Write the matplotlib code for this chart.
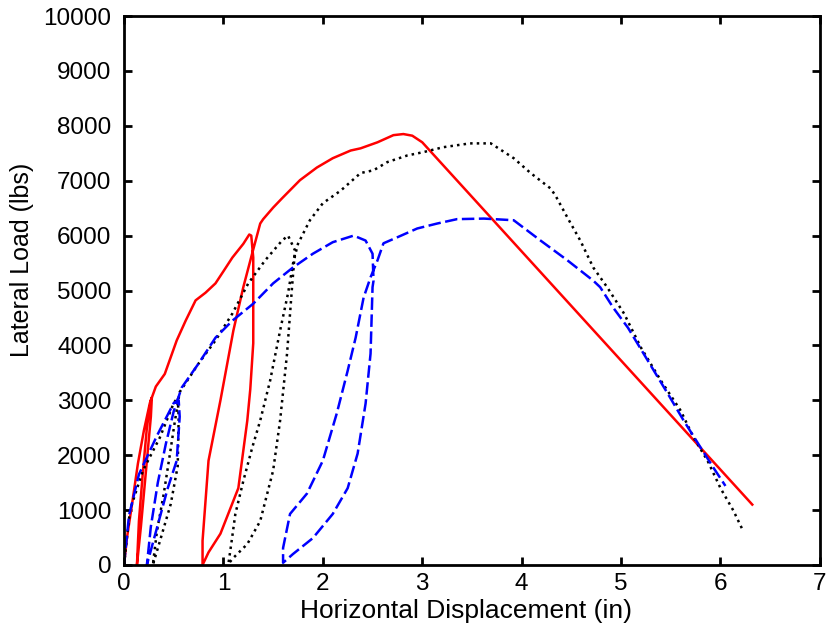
import matplotlib.pyplot as plt

plt.rcParams['font.family'] = ['Liberation Sans', 'DejaVu Sans']

# Red specimen (solid)
red_x = [0, 0.03, 0.08, 0.14, 0.20, 0.26, 0.28, 0.27, 0.22, 0.17, 0.13,
         0.15, 0.19, 0.23, 0.27, 0.32, 0.41, 0.53, 0.62, 0.72, 0.82, 0.92, 1.00, 1.09, 1.20, 1.26, 1.28,
         1.30, 1.30, 1.27, 1.24, 1.15, 0.97, 0.85, 0.79,
         0.79, 0.85, 0.97, 1.10, 1.20, 1.29, 1.37, 1.40, 1.50, 1.59, 1.77, 1.94,
         2.10, 2.28, 2.38, 2.55, 2.71, 2.81, 2.90, 3.00, 6.32]
red_y = [0, 500, 1100, 1850, 2450, 2950, 3050, 2700, 1700, 700, 0,
         800, 1700, 2500, 3000, 3250, 3480, 4090, 4450, 4820, 4960, 5130, 5350, 5600, 5850, 6020, 6000,
         5600, 4040, 3200, 2630, 1400, 570, 230, 0,
         440, 1900, 3000, 4270, 5060, 5680, 6220, 6300, 6510, 6680, 7010, 7240,
         7410, 7550, 7590, 7700, 7830, 7850, 7820, 7700, 1100]

# Black specimen (dotted)
black_x = [0, 0.06, 0.19, 0.36, 0.50, 0.54, 0.55, 0.54, 0.47, 0.37, 0.29,
           0.33, 0.40, 0.46, 0.51, 0.56, 0.75, 0.92, 1.09, 1.25, 1.42, 1.59, 1.65,
           1.72, 1.69, 1.64, 1.57, 1.50, 1.37, 1.24, 1.10, 1.05,
           1.08, 1.12, 1.20, 1.29, 1.37, 1.47, 1.57, 1.65, 1.70, 1.75, 1.87, 2.00,
           2.18, 2.38, 2.51, 2.65, 2.85, 3.01, 3.21, 3.48, 3.69,
           3.92, 4.09, 4.29, 4.34, 4.46, 4.59, 4.72, 4.86, 5.03, 5.20, 5.40,
           5.60, 5.73, 5.87, 6.00, 6.13, 6.22]
black_y = [0, 1000, 1720, 2320, 2950, 3050, 2700, 1800, 1110, 490, 0,
           600, 1300, 2000, 2600, 3150, 3670, 4090, 4580, 5130, 5550, 5910, 6000,
           5730, 5060, 3850, 2630, 1720, 800, 380, 130, 20,
           400, 930, 1530, 2140, 2630, 3360, 4270, 4950, 5490, 5850, 6280, 6590,
           6820, 7140, 7190, 7340, 7460, 7520, 7610, 7680, 7680,
           7410, 7140, 6860, 6730, 6330, 5910, 5420, 5060, 4580, 3960, 3360,
           2810, 2320, 1900, 1400, 990, 650]

# Blue specimen (dashed)
blue_x = [0, 0.05, 0.15, 0.33, 0.50, 0.55, 0.56, 0.53, 0.44, 0.32, 0.23,
          0.27, 0.34, 0.42, 0.50, 0.58, 0.75, 0.92, 1.09, 1.30, 1.50, 1.70, 1.90,
          2.10, 2.31, 2.43, 2.50, 2.51, 2.50, 2.48, 2.43, 2.35, 2.25, 2.10, 1.90,
          1.70, 1.60,
          1.60, 1.67, 1.84, 2.00, 2.14, 2.25, 2.33, 2.41, 2.48, 2.55, 2.61, 2.75,
          2.95, 3.15, 3.35, 3.62, 3.92, 4.19, 4.46, 4.72, 4.79, 4.92, 5.07,
          5.27, 5.47, 5.63, 5.80, 5.93, 6.05]
blue_y = [0, 900, 1650, 2350, 2950, 3000, 2700, 1900, 1400, 600, 0,
          700, 1500, 2200, 2800, 3230, 3670, 4140, 4450, 4760, 5130, 5420, 5670,
          5880, 6000, 5910, 5670, 5180, 5060, 3850, 2940, 2030, 1400, 930, 490,
          200, 40,
          310, 930, 1300, 1900, 2760, 3540, 4140, 4870, 5240, 5550, 5860, 5970,
          6130, 6220, 6300, 6310, 6280, 5910, 5550, 5180, 5060, 4690, 4320,
          3720, 3120, 2630, 2140, 1770, 1440]

fig = plt.figure(figsize=(8.29, 6.41), dpi=100)
ax = fig.add_axes([0.1496, 0.1186, 0.8394, 0.8564])

ax.plot(red_x, red_y, color='red', linestyle='-', linewidth=1.8)
ax.plot(black_x, black_y, color='black', linestyle=':', linewidth=1.8)
ax.plot(blue_x, blue_y, color='blue', linestyle=(0, (5, 1.8)), linewidth=1.8)

ax.set_xlim(0, 7)
ax.set_ylim(0, 10000)
ax.set_xticks(range(0, 8))
ax.set_yticks(range(0, 10001, 1000))
ax.tick_params(direction='in', length=6, width=2, labelsize=17.5, top=True, right=True)
ax.tick_params(axis='x', pad=6)
ax.tick_params(axis='y', pad=9)
for sp in ax.spines.values():
    sp.set_linewidth(2)

ax.set_xlabel("Horizontal Displacement (in)", fontsize=19)
ax.set_ylabel("Lateral Load (lbs)", fontsize=18)
ax.xaxis.set_label_coords(0.491, -0.062)
ax.yaxis.set_label_coords(-0.13, 0.556)

fig.savefig("out.png", dpi=100)
